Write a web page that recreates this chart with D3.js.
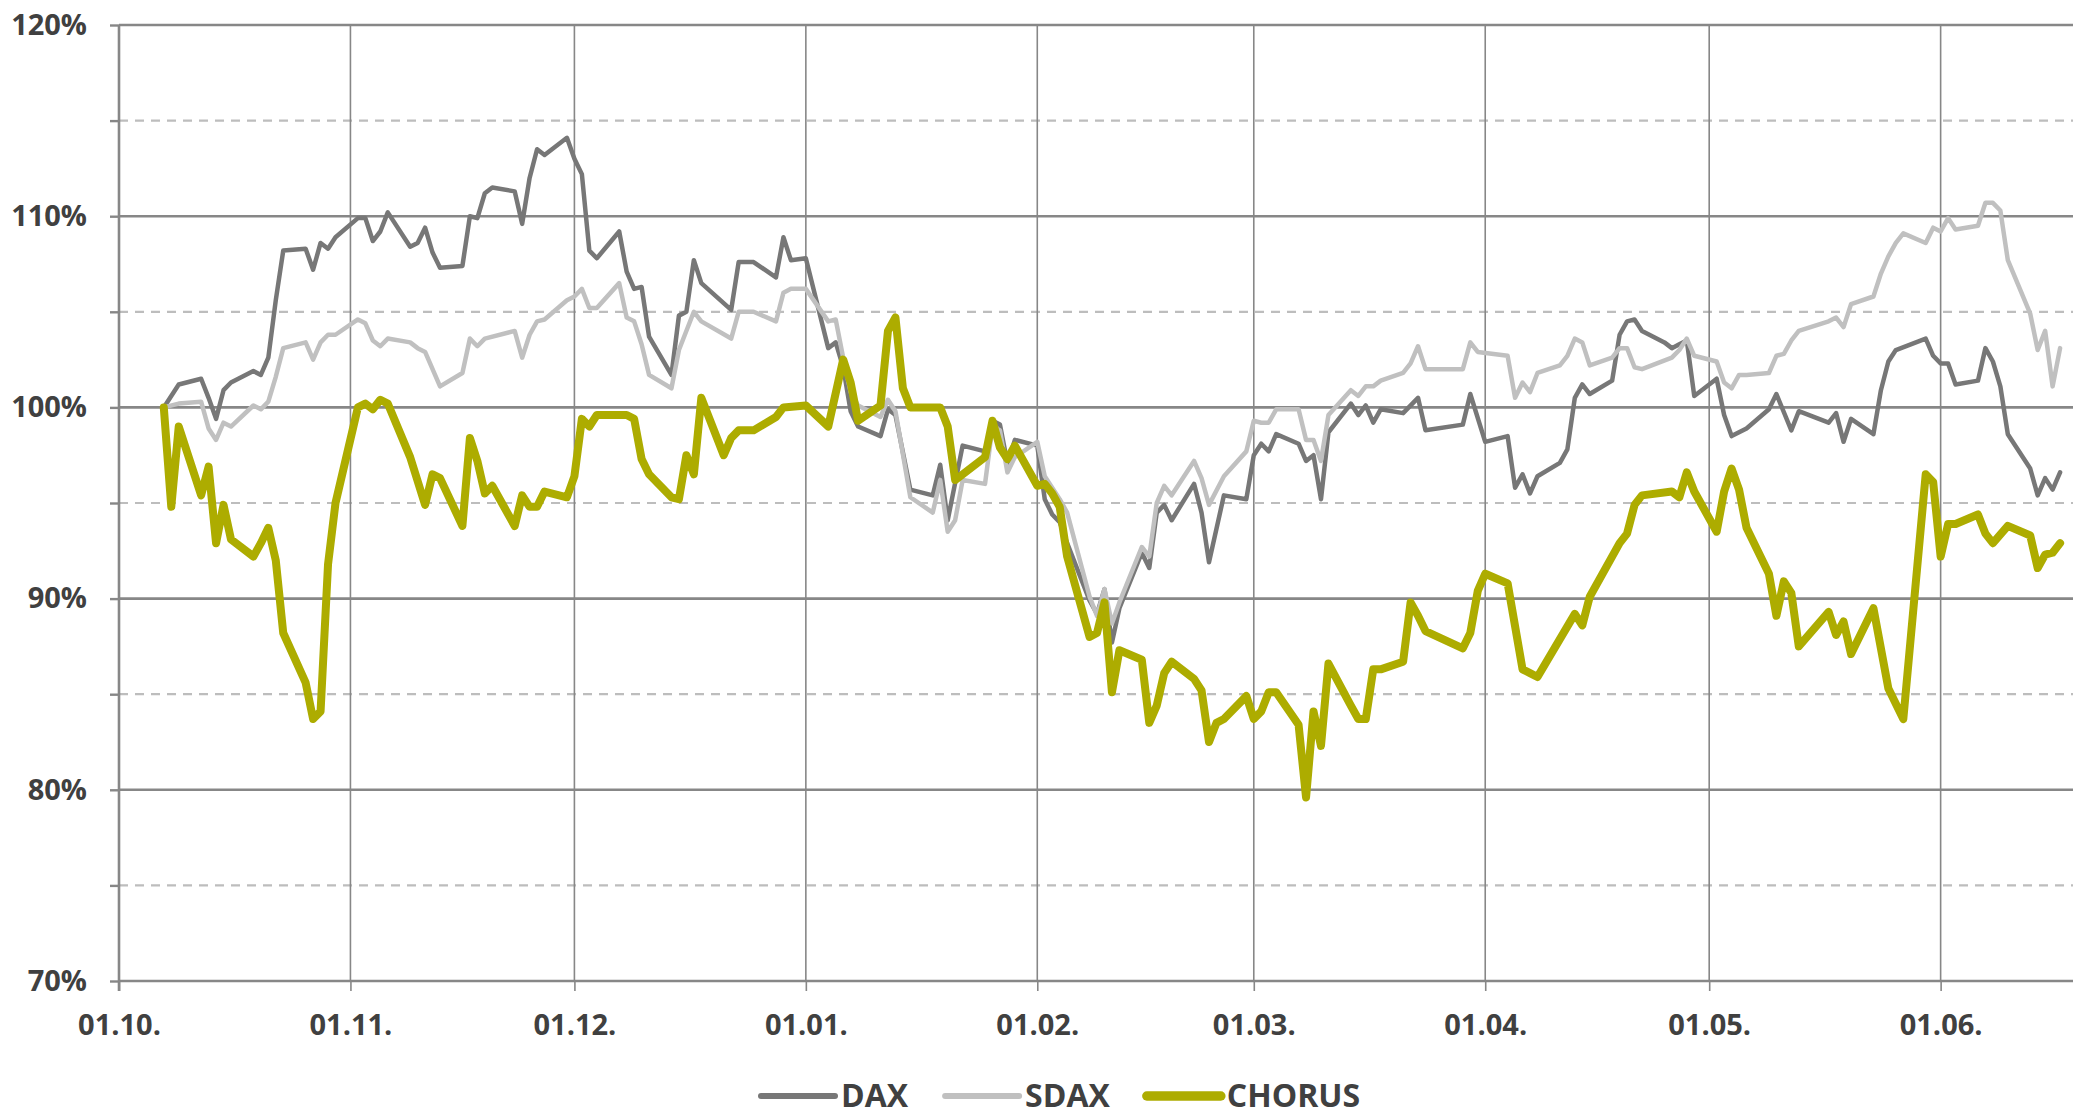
<!DOCTYPE html>
<html>
<head>
<meta charset="utf-8">
<script src="https://cdn.jsdelivr.net/npm/d3@7"></script>
<style>
  html, body { margin: 0; padding: 0; background: #ffffff; }
  svg { display: block; }
  text { font-family: "Open Sans", "Liberation Sans", sans-serif; font-weight: 700; fill: #404040; }
</style>
</head>
<body>
<svg id="chart" width="2073" height="1117"></svg>
<script>
// ---------------- DATA ----------------
// dates as "MM-DD": Oct–Dec = 2015, Jan–Jun = 2016; values in % of 07.10.2015
const seriesNames = ["DAX", "SDAX", "CHORUS"];

const daxDates = [
  "10-07","10-09","10-12","10-13","10-14","10-15","10-16","10-19","10-20","10-21","10-22","10-23","10-26","10-27","10-28","10-29","10-30",
  "11-02","11-03","11-04","11-05","11-06","11-09","11-10","11-11","11-12","11-13","11-16","11-17","11-18","11-19","11-20","11-23","11-24","11-25","11-26","11-27","11-30",
  "12-01","12-02","12-03","12-04","12-07","12-08","12-09","12-10","12-11","12-14","12-15","12-16","12-17","12-18","12-22","12-23","12-25","12-28","12-29","12-30",
  "01-01","01-04","01-05","01-06","01-07","01-08","01-11","01-12","01-13","01-15","01-18","01-19","01-20","01-22","01-25","01-26","01-27","01-28","01-29",
  "02-01","02-02","02-03","02-04","02-05","02-08","02-09","02-10","02-11","02-12","02-15","02-16","02-17","02-18","02-19","02-22","02-23","02-24","02-26","02-29",
  "03-01","03-02","03-03","03-04","03-07","03-08","03-09","03-10","03-11","03-14","03-15","03-16","03-17","03-18","03-21","03-23","03-24","03-29","03-30",
  "04-01","04-04","04-05","04-06","04-07","04-08","04-11","04-12","04-13","04-14","04-15","04-18","04-19","04-20","04-21","04-22","04-25","04-26","04-27","04-28","04-29",
  "05-02","05-03","05-04","05-06","05-09","05-10","05-12","05-13","05-17","05-18","05-19","05-20","05-23","05-24","05-25","05-26","05-30","05-31",
  "06-01","06-02","06-03","06-06","06-07","06-08","06-09","06-10","06-13","06-14","06-15","06-16","06-17"
];
const daxValues = [
  100.0,101.2,101.5,100.5,99.4,100.9,101.3,101.9,101.7,102.6,105.6,108.2,108.3,107.2,108.6,108.3,108.9,
  109.9,109.9,108.7,109.2,110.2,108.4,108.6,109.4,108.1,107.3,107.4,110.0,109.9,111.2,111.5,111.3,109.6,112.0,113.5,113.2,114.1,
  113.0,112.2,108.2,107.8,109.2,107.1,106.2,106.3,103.7,101.7,104.8,105.0,107.7,106.5,105.1,107.6,107.6,106.8,108.9,107.7,
  107.8,103.1,103.4,102.1,99.8,99.0,98.5,99.9,99.6,95.7,95.4,97.0,94.1,98.0,97.7,99.3,99.1,97.1,98.3,
  98.0,95.2,94.4,94.0,92.9,89.9,89.2,90.5,87.7,89.5,92.4,91.6,94.5,94.9,94.1,96.0,94.5,91.9,95.4,95.2,
  97.5,98.1,97.7,98.6,98.1,97.2,97.5,95.2,98.7,100.2,99.6,100.1,99.2,99.9,99.7,100.5,98.8,99.1,100.7,
  98.2,98.5,95.8,96.5,95.5,96.4,97.1,97.8,100.5,101.2,100.7,101.4,103.8,104.5,104.6,104.0,103.4,103.1,103.3,103.5,100.6,
  101.5,99.6,98.5,98.9,99.9,100.7,98.8,99.8,99.2,99.7,98.2,99.4,98.6,100.9,102.4,103.0,103.6,102.7,
  102.3,102.3,101.2,101.4,103.1,102.4,101.1,98.6,96.8,95.4,96.3,95.7,96.6
];

const sdaxDates = [
  "10-07","10-09","10-12","10-13","10-14","10-15","10-16","10-19","10-20","10-21","10-22","10-23","10-26","10-27","10-28","10-29","10-30",
  "11-02","11-03","11-04","11-05","11-06","11-09","11-10","11-11","11-13","11-16","11-17","11-18","11-19","11-23","11-24","11-25","11-26","11-27","11-30",
  "12-01","12-02","12-03","12-04","12-07","12-08","12-09","12-10","12-11","12-14","12-15","12-17","12-18","12-22","12-23","12-25","12-28","12-29","12-30",
  "01-01","01-04","01-05","01-06","01-07","01-08","01-11","01-12","01-13","01-15","01-18","01-19","01-20","01-21","01-22","01-25","01-26","01-27","01-28","01-29",
  "02-01","02-02","02-04","02-05","02-08","02-09","02-10","02-11","02-12","02-15","02-16","02-17","02-18","02-19","02-22","02-23","02-24","02-26","02-29",
  "03-01","03-02","03-03","03-04","03-07","03-08","03-09","03-10","03-11","03-14","03-15","03-16","03-17","03-18","03-21","03-22","03-23","03-24","03-29","03-30","03-31",
  "04-04","04-05","04-06","04-07","04-08","04-11","04-12","04-13","04-14","04-15","04-18","04-19","04-20","04-21","04-22","04-26","04-27","04-28","04-29",
  "05-02","05-03","05-04","05-05","05-06","05-09","05-10","05-11","05-12","05-13","05-17","05-18","05-19","05-20","05-23","05-24","05-25","05-26","05-27","05-30","05-31",
  "06-01","06-02","06-03","06-06","06-07","06-08","06-09","06-10","06-13","06-14","06-15","06-16","06-17"
];
const sdaxValues = [
  100.0,100.2,100.3,98.9,98.3,99.2,99.0,100.1,99.9,100.3,101.6,103.1,103.4,102.5,103.4,103.8,103.8,
  104.6,104.4,103.5,103.2,103.6,103.4,103.1,102.9,101.1,101.8,103.6,103.2,103.6,104.0,102.6,103.8,104.5,104.6,105.6,
  105.8,106.2,105.2,105.2,106.5,104.7,104.5,103.3,101.7,101.0,103.0,105.0,104.5,103.6,105.0,105.0,104.5,106.0,106.2,
  106.2,104.5,104.6,102.6,100.8,100.1,99.5,100.4,99.8,95.3,94.5,96.2,93.5,94.1,96.2,96.0,99.0,98.8,96.6,97.4,
  98.2,96.4,95.2,94.5,90.1,89.1,90.5,88.7,89.8,92.7,92.2,95.0,95.9,95.4,97.2,96.3,94.9,96.4,97.7,
  99.3,99.2,99.2,99.9,99.9,98.3,98.3,97.2,99.6,100.9,100.6,101.1,101.1,101.4,101.8,102.3,103.2,102.0,102.0,103.4,102.9,
  102.7,100.5,101.3,100.8,101.8,102.2,102.7,103.6,103.4,102.2,102.6,103.1,103.1,102.1,102.0,102.6,103.0,103.6,102.7,
  102.4,101.3,101.0,101.7,101.7,101.8,102.7,102.8,103.5,104.0,104.5,104.7,104.2,105.4,105.8,107.0,107.9,108.6,109.1,108.6,109.4,
  109.2,109.9,109.3,109.5,110.7,110.7,110.3,107.7,104.9,103.0,104.0,101.1,103.1
];

const chorusDates = [
  "10-07","10-08","10-09","10-12","10-13","10-14","10-15","10-16","10-19","10-20","10-21","10-22","10-23","10-26","10-27","10-28","10-29","10-30",
  "11-02","11-03","11-04","11-05","11-06","11-09","11-11","11-12","11-13","11-16","11-17","11-18","11-19","11-20","11-23","11-24","11-25","11-26","11-27","11-30",
  "12-01","12-02","12-03","12-04","12-08","12-09","12-10","12-11","12-14","12-15","12-16","12-17","12-18","12-21","12-22","12-23","12-25","12-28","12-29",
  "01-01","01-04","01-06","01-07","01-08","01-11","01-12","01-13","01-14","01-15","01-19","01-20","01-21","01-25","01-26","01-27","01-28","01-29",
  "02-01","02-02","02-03","02-04","02-05","02-08","02-09","02-10","02-11","02-12","02-15","02-16","02-17","02-18","02-19","02-22","02-23","02-24","02-25","02-26","02-29",
  "03-01","03-02","03-03","03-04","03-07","03-08","03-09","03-10","03-11","03-14","03-15","03-16","03-17","03-18","03-21","03-22","03-23","03-24","03-29","03-30","03-31",
  "04-01","04-04","04-06","04-07","04-08","04-13","04-14","04-15","04-19","04-20","04-21","04-22","04-26","04-27","04-28","04-29",
  "05-02","05-03","05-04","05-05","05-06","05-09","05-10","05-11","05-12","05-13","05-17","05-18","05-19","05-20","05-23","05-25","05-27","05-30","05-31",
  "06-01","06-02","06-03","06-06","06-07","06-08","06-10","06-13","06-14","06-15","06-16","06-17"
];
const chorusValues = [
  100.0,94.8,99.0,95.4,96.9,92.9,94.9,93.1,92.2,92.9,93.7,92.0,88.2,85.6,83.7,84.1,91.8,95.0,
  100.0,100.2,99.9,100.4,100.2,97.4,94.9,96.5,96.3,93.8,98.4,97.2,95.5,95.9,93.8,95.4,94.8,94.8,95.6,95.3,
  96.4,99.4,99.0,99.6,99.6,99.4,97.3,96.5,95.3,95.2,97.5,96.5,100.5,97.5,98.4,98.8,98.8,99.5,100.0,
  100.1,99.0,102.5,101.3,99.3,100.1,104.0,104.7,101.0,100.0,100.0,99.0,96.2,97.4,99.3,97.9,97.3,98.0,
  95.9,96.0,95.5,94.8,92.2,88.0,88.2,89.8,85.1,87.3,86.8,83.5,84.4,86.1,86.7,85.8,85.2,82.5,83.5,83.7,84.9,
  83.7,84.1,85.1,85.1,83.4,79.6,84.1,82.3,86.6,84.4,83.7,83.7,86.3,86.3,86.7,89.8,89.1,88.3,87.4,88.2,90.4,
  91.3,90.8,86.3,86.1,85.9,89.2,88.6,90.1,92.9,93.4,94.9,95.4,95.6,95.3,96.6,95.6,
  93.5,95.6,96.8,95.7,93.7,91.3,89.1,90.9,90.3,87.5,89.3,88.1,88.8,87.1,89.5,85.3,83.7,96.5,96.1,
  92.2,93.9,93.9,94.4,93.4,92.9,93.8,93.3,91.6,92.3,92.4,92.9
];

// axis ticks
const xTickDates = ["2015-10-01","2015-11-01","2015-12-01","2016-01-01","2016-02-01","2016-03-01","2016-04-01","2016-05-01","2016-06-01"];
const xDomain = ["2015-10-01","2016-06-19"];
const yMajorTicks = [70, 80, 90, 100, 110, 120];
const yMinorTicks = [75, 85, 95, 105, 115];

// ---------------- DRAWING ----------------
const W = 2073, H = 1117;
const M = { left: 119, top: 25, bottom: 981, right: 2073 };
const parseIso = d3.utcParse("%Y-%m-%d");
const parseMD = s => { const [m, d] = s.split("-").map(Number); return new Date(Date.UTC(m >= 10 ? 2015 : 2016, m - 1, d)); };

const x = d3.scaleUtc()
  .domain(xDomain.map(parseIso))
  .range([M.left, M.left + 262 * 7.4657]);
const y = d3.scaleLinear().domain([70, 120]).range([M.bottom, M.top]);

const svg = d3.select("#chart");
svg.append("rect").attr("width", W).attr("height", H).attr("fill", "#ffffff");

const gridColor = "#878787";

// dashed minor gridlines
svg.append("g").selectAll("line").data(yMinorTicks).join("line")
  .attr("x1", M.left).attr("x2", M.right)
  .attr("y1", d => y(d)).attr("y2", d => y(d))
  .attr("stroke", "#bdbdbd").attr("stroke-width", 2.2)
  .attr("stroke-dasharray", "9,7");

// major horizontal gridlines
svg.append("g").selectAll("line").data(yMajorTicks).join("line")
  .attr("x1", M.left).attr("x2", M.right)
  .attr("y1", d => y(d)).attr("y2", d => y(d))
  .attr("stroke", gridColor).attr("stroke-width", 2.6);

// vertical gridlines (months)
const xTicks = xTickDates.map(parseIso);
svg.append("g").selectAll("line").data(xTicks.slice(1)).join("line")
  .attr("x1", d => x(d)).attr("x2", d => x(d))
  .attr("y1", M.top).attr("y2", M.bottom)
  .attr("stroke", gridColor).attr("stroke-width", 1.6);

// y axis
const yAxis = d3.axisLeft(y)
  .tickValues(yMajorTicks.concat(yMinorTicks))
  .tickSize(9).tickPadding(23)
  .tickFormat(d => (d % 10 === 0 ? d + "%" : ""));
const gy = svg.append("g").attr("transform", `translate(${M.left},0)`).call(yAxis);
gy.select(".domain").attr("stroke", gridColor).attr("stroke-width", 2.6)
  .attr("d", `M0,${M.top}V${M.bottom + 10}`);
gy.selectAll(".tick line").attr("stroke", gridColor).attr("stroke-width", 2.4);
gy.selectAll(".tick text")
  .attr("font-size", 29).attr("font-family", "'Open Sans', sans-serif")
  .attr("font-weight", 700).attr("fill", "#404040");

// x axis
const xAxis = d3.axisBottom(x)
  .tickValues(xTicks)
  .tickSize(10).tickSizeOuter(0)
  .tickFormat(d3.utcFormat("%d.%m."));
const gx = svg.append("g").attr("transform", `translate(0,${M.bottom})`).call(xAxis);
gx.select(".domain").remove();
gx.selectAll(".tick line").attr("stroke", gridColor).attr("stroke-width", 1.6);
gx.selectAll(".tick text")
  .attr("y", 54).attr("dy", 0)
  .attr("font-size", 29).attr("font-family", "'Open Sans', sans-serif")
  .attr("font-weight", 700).attr("fill", "#404040");

// series
const series = [
  { name: seriesNames[0], dates: daxDates, values: daxValues, color: "#777777", width: 4.5 },
  { name: seriesNames[1], dates: sdaxDates, values: sdaxValues, color: "#c0c0c0", width: 4.5 },
  { name: seriesNames[2], dates: chorusDates, values: chorusValues, color: "#adac00", width: 8 }
];
const line = d3.line().x(d => x(d[0])).y(d => y(d[1]));
series.forEach(s => {
  const pts = s.dates.map((d, i) => [parseMD(d), s.values[i]]);
  svg.append("path")
    .attr("d", line(pts))
    .attr("fill", "none")
    .attr("stroke", s.color)
    .attr("stroke-width", s.width)
    .attr("stroke-linejoin", "round")
    .attr("stroke-linecap", "round");
});

// legend
const legend = svg.append("g");
const legY = 1096, symLen = 74, symGap = 6, itemGap = 37;
let cx = 761;
series.forEach(s => {
  legend.append("line")
    .attr("x1", cx).attr("x2", cx + symLen)
    .attr("y1", legY).attr("y2", legY)
    .attr("stroke", s.color).attr("stroke-width", s.width + 1.5)
    .attr("stroke-linecap", "round");
  const t = legend.append("text")
    .attr("x", cx + symLen + symGap).attr("y", 1107)
    .attr("font-size", 32).attr("font-family", "'Open Sans', sans-serif")
    .attr("font-weight", 700).attr("fill", "#404040")
    .text(s.name);
  cx = cx + symLen + symGap + t.node().getComputedTextLength() + itemGap;
});
</script>
</body>
</html>
